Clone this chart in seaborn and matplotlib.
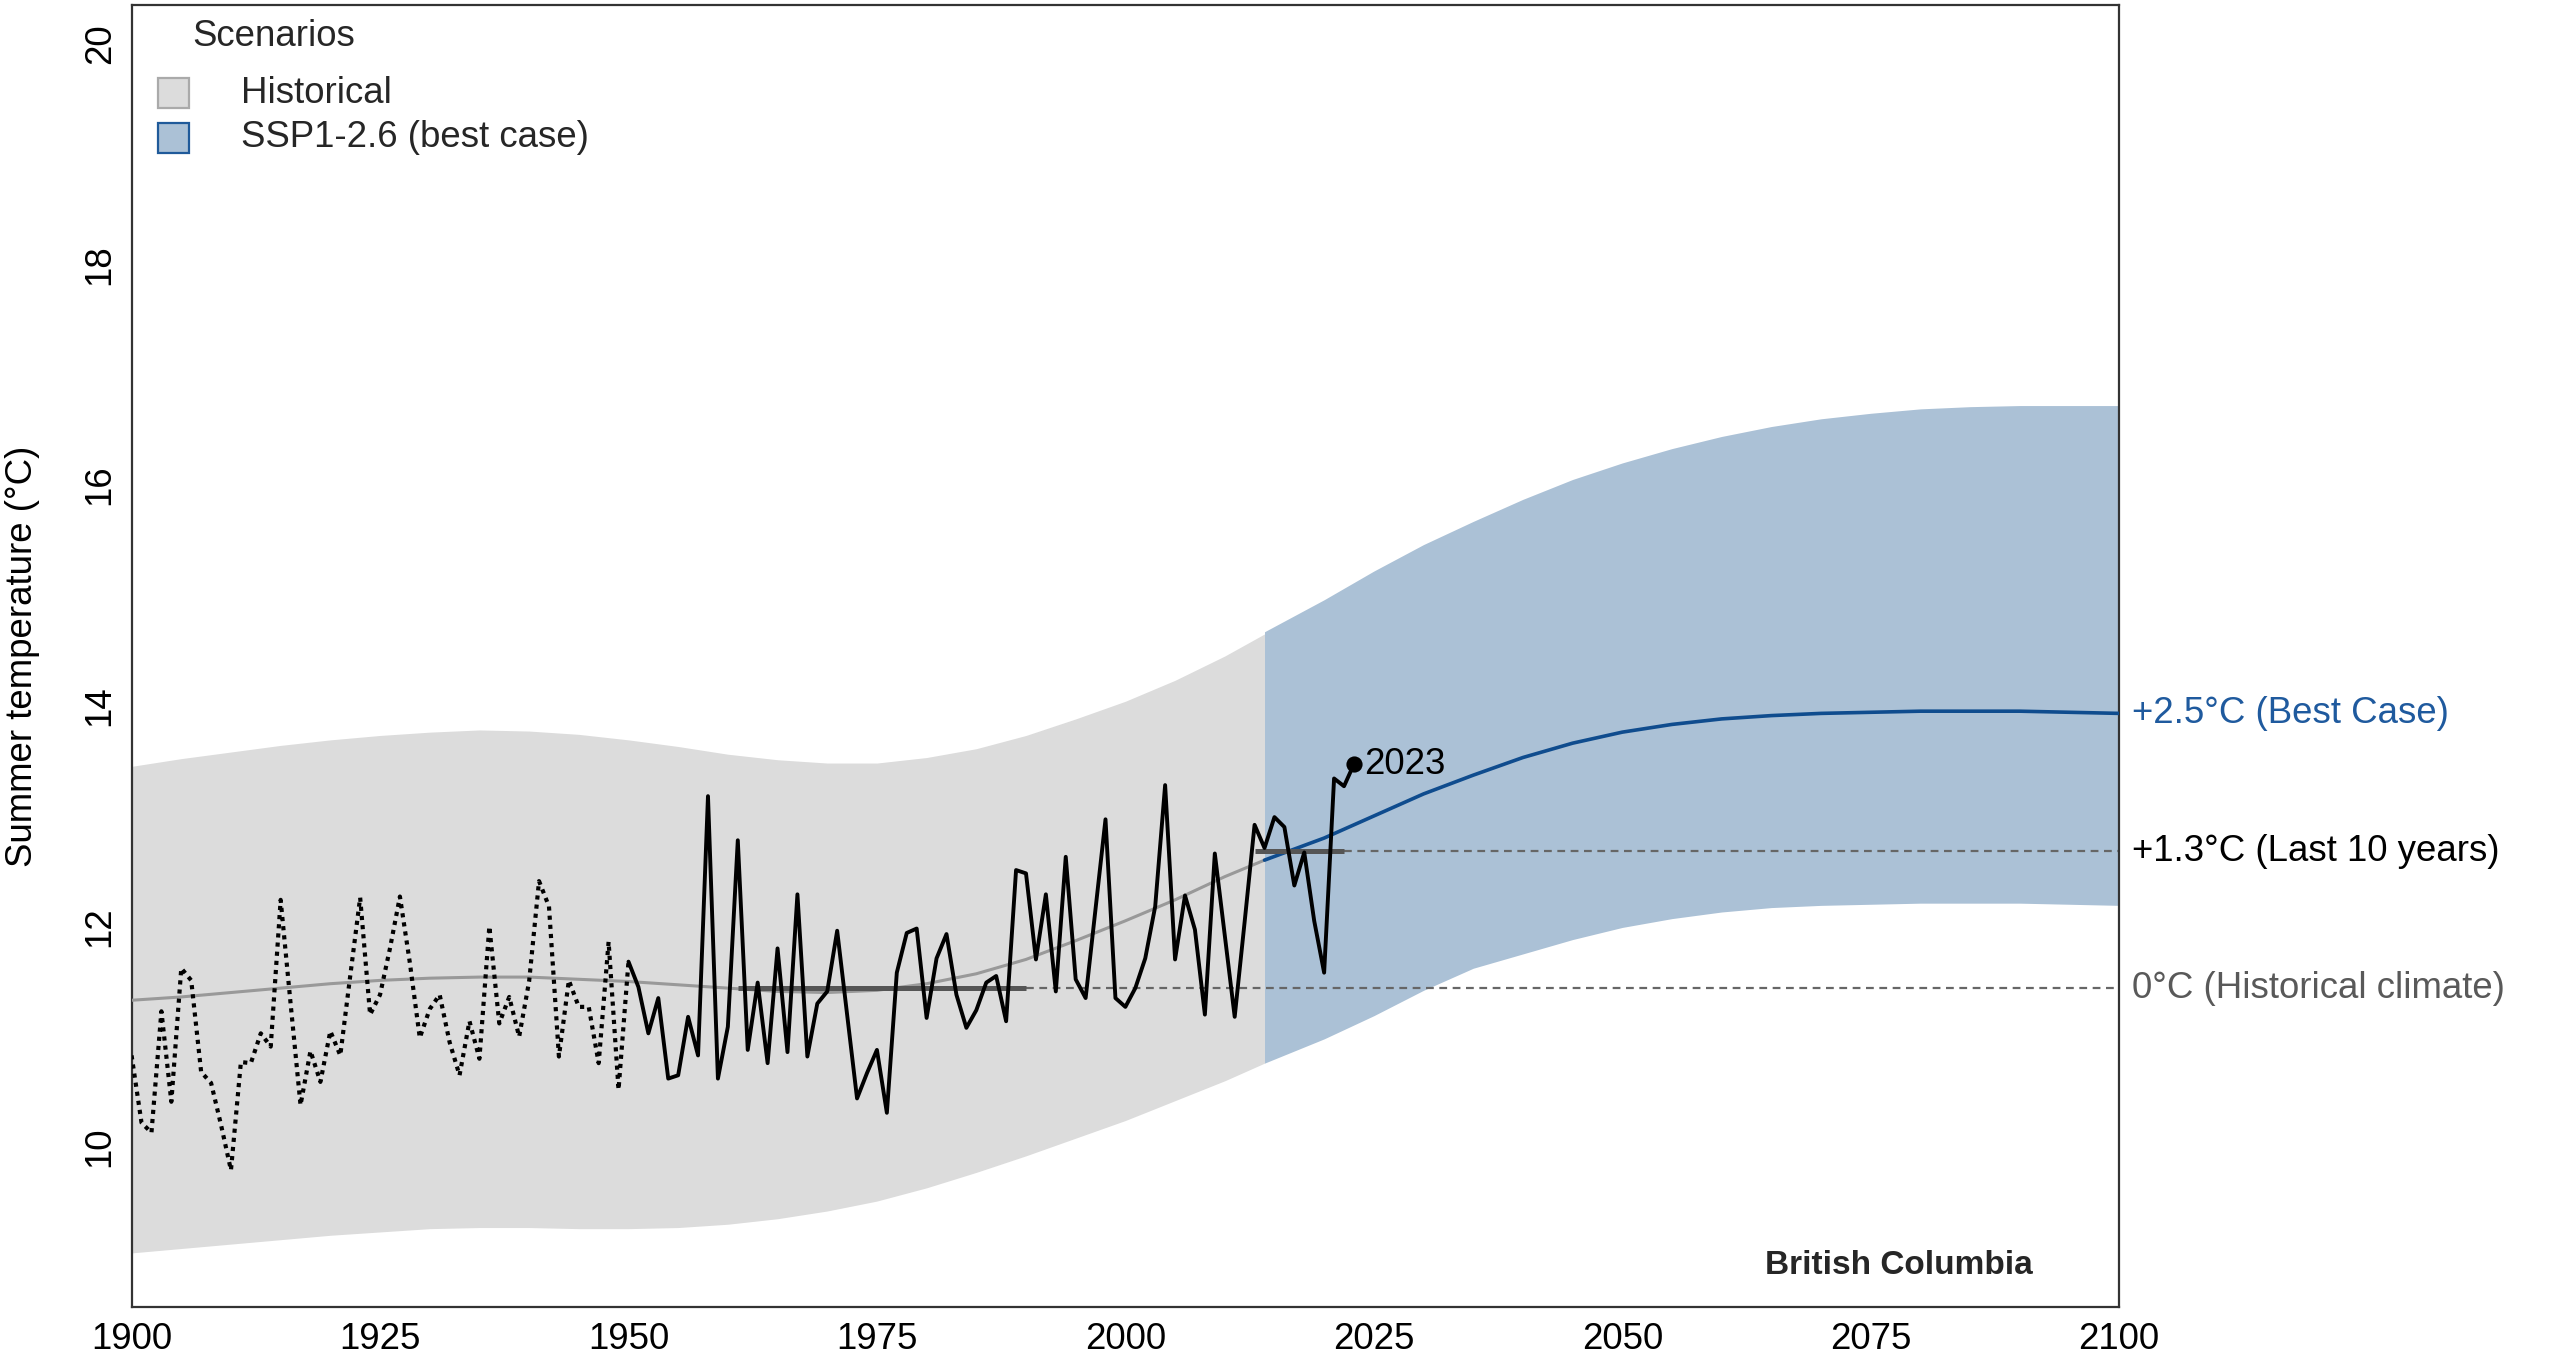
import numpy as np
import pandas as pd
import matplotlib
matplotlib.use("Agg")
import matplotlib.pyplot as plt
from matplotlib.patches import Rectangle
import seaborn as sns

# ---------------- data ----------------
early_years = list(range(1900, 1951))
early_temp = [10.83, 10.22, 10.13, 11.23, 10.41, 11.62, 11.51, 10.68, 10.58, 10.20,
              9.79, 10.77, 10.76, 11.03, 10.91, 12.24, 11.30, 10.38, 10.87, 10.59,
              11.05, 10.83, 11.55, 12.26, 11.20, 11.38, 11.80, 12.27, 11.67, 10.99,
              11.25, 11.38, 10.95, 10.65, 11.14, 10.80, 12.00, 11.12, 11.36, 11.00,
              11.50, 12.41, 12.18, 10.82, 11.51, 11.27, 11.27, 10.76, 11.86, 10.52,
              11.68]

obs_years = list(range(1950, 2024))
obs_temp = [11.68, 11.45, 11.03, 11.35, 10.62, 10.65, 11.18, 10.83, 13.18, 10.62,
            11.09, 12.78, 10.88, 11.49, 10.76, 11.80, 10.86, 12.29, 10.82, 11.30,
            11.41, 11.96, 11.20, 10.44, 10.67, 10.88, 10.31, 11.58, 11.94, 11.98,
            11.17, 11.71, 11.93, 11.38, 11.08, 11.24, 11.49, 11.55, 11.14, 12.51,
            12.48, 11.70, 12.29, 11.41, 12.63, 11.52, 11.35, 12.16, 12.97, 11.35,
            11.27, 11.44, 11.71, 12.18, 13.28, 11.70, 12.28, 11.97, 11.20, 12.66,
            11.92, 11.18, 12.04, 12.92, 12.71, 12.99, 12.90, 12.37, 12.67, 12.05,
            11.58, 13.34, 13.27, 13.47]

hist_years = [1900, 1905, 1910, 1915, 1920, 1925, 1930, 1935, 1940, 1945, 1950, 1955,
              1960, 1965, 1970, 1975, 1980, 1985, 1990, 1995, 2000, 2005, 2010, 2014]
hist_mean = [11.33, 11.36, 11.40, 11.44, 11.48, 11.51, 11.53, 11.54, 11.54, 11.52, 11.50, 11.47,
             11.44, 11.41, 11.40, 11.42, 11.48, 11.57, 11.70, 11.87, 12.05, 12.24, 12.45, 12.60]
hist_upper = [13.45, 13.52, 13.58, 13.64, 13.69, 13.73, 13.76, 13.78, 13.77, 13.74, 13.69, 13.63,
              13.56, 13.51, 13.48, 13.48, 13.53, 13.61, 13.73, 13.88, 14.04, 14.23, 14.45, 14.65]
hist_lower = [9.04, 9.08, 9.12, 9.16, 9.20, 9.23, 9.26, 9.27, 9.27, 9.26, 9.26, 9.27,
              9.30, 9.35, 9.42, 9.51, 9.63, 9.77, 9.92, 10.08, 10.24, 10.42, 10.60, 10.76]

ssp_years = [2014, 2020, 2025, 2030, 2035, 2040, 2045, 2050, 2055, 2060, 2065, 2070,
             2075, 2080, 2085, 2090, 2095, 2100]
ssp_mean = [12.60, 12.80, 13.00, 13.20, 13.37, 13.53, 13.66, 13.76, 13.83, 13.88, 13.91, 13.93,
            13.94, 13.95, 13.95, 13.95, 13.94, 13.93]
ssp_upper = [14.67, 14.96, 15.22, 15.46, 15.67, 15.87, 16.05, 16.20, 16.33, 16.44, 16.53, 16.60,
             16.65, 16.69, 16.71, 16.72, 16.72, 16.72]
ssp_lower = [10.76, 10.98, 11.19, 11.42, 11.62, 11.75, 11.88, 11.99, 12.07, 12.13, 12.17, 12.19,
             12.20, 12.21, 12.21, 12.21, 12.20, 12.19]

baseline_value = 11.44
baseline_period = [1961, 1990]
baseline_extend = [1990, 2100]
recent_value = 12.68
recent_period = [2013, 2022]
recent_extend = [2022, 2100]
best_case_value = 13.93

x_ticks = [1900, 1925, 1950, 1975, 2000, 2025, 2050, 2075, 2100]
y_ticks = [10, 12, 14, 16, 18, 20]

# ---------------- style ----------------
sns.set_theme(style="white")
plt.rcParams["font.family"] = ["Liberation Sans", "DejaVu Sans"]

FS = 13.2
GREY_BAND = "#dcdcdc"
BLUE_BAND = "#abc1d6"
BLUE = "#0f4c8e"
BLUE_TXT = "#1f5a9e"

fig = plt.figure(figsize=(12.8, 6.82), dpi=200)
ax = fig.add_axes([0.0514, 0.0418, 0.7764, 0.9545])

# bands
ax.fill_between(hist_years, hist_lower, hist_upper, color=GREY_BAND, lw=0, zorder=1)
ax.fill_between(ssp_years, ssp_lower, ssp_upper, color=BLUE_BAND, lw=0, zorder=1)

# reference lines
ax.plot(baseline_extend, [baseline_value] * 2, color="#666666", lw=0.8,
        dashes=(3.5, 2.5), zorder=2)
ax.plot(recent_extend, [recent_value] * 2, color="#666666", lw=0.8,
        dashes=(3.5, 2.5), zorder=2)

# trend lines
sns.lineplot(x=hist_years, y=hist_mean, ax=ax, color="#999999", lw=1.1, zorder=3)
sns.lineplot(x=ssp_years, y=ssp_mean, ax=ax, color=BLUE, lw=1.3, zorder=3)

ax.plot(baseline_period, [baseline_value] * 2, color="#555555", lw=1.8,
        solid_capstyle="butt", zorder=4)
ax.plot(recent_period, [recent_value] * 2, color="#555555", lw=1.8,
        solid_capstyle="butt", zorder=4)

# observations
sns.lineplot(x=early_years, y=early_temp, ax=ax, color="black", lw=1.5,
             linestyle=(0, (1.0, 1.2)), dash_capstyle="butt", zorder=5)
sns.lineplot(x=obs_years, y=obs_temp, ax=ax, color="black", lw=1.4, zorder=5)
ax.scatter([obs_years[-1]], [obs_temp[-1]], s=34, color="black", zorder=6, lw=0)
ax.annotate(str(obs_years[-1]), xy=(obs_years[-1], obs_temp[-1]), xytext=(3.5, 0),
            textcoords="offset points", va="center", ha="left", fontsize=FS, color="black")

# right-hand labels
for val, txt, col in [(best_case_value, "+2.5°C (Best Case)", BLUE_TXT),
                      (recent_value, "+1.3°C (Last 10 years)", "black"),
                      (baseline_value, "0°C (Historical climate)", "#595959")]:
    ax.annotate(txt, xy=(2100, val), xytext=(4.6, 0), textcoords="offset points",
                va="center", ha="left", fontsize=FS, color=col, annotation_clip=False)

# axes
ax.set_xlim(1900, 2100)
ax.set_ylim(8.55, 20.35)
ax.set_xticks(x_ticks)
ax.set_xticklabels([str(v) for v in x_ticks])
ax.set_yticks(y_ticks)
ax.set_yticklabels([str(v) for v in y_ticks], rotation=90, va="center")
ax.tick_params(axis="both", length=0, labelsize=FS, colors="black")
ax.tick_params(axis="x", pad=5.5)
ax.tick_params(axis="y", pad=5)
ax.set_xlabel("")
ax.set_ylabel("Summer temperature (°C)", fontsize=FS, color="black")
ax.yaxis.set_label_coords(-0.046, 0.5)
for s in ax.spines.values():
    s.set_visible(True)
    s.set_color("#333333")
    s.set_linewidth(0.8)
ax.grid(False)

# legend (manual)
ax.text(0.0307, 0.9755, "Scenarios", transform=ax.transAxes, ha="left", va="center", fontsize=FS)
ax.add_patch(Rectangle((0.0134, 0.9209), 0.0156, 0.0231, transform=ax.transAxes,
                       facecolor=GREY_BAND, edgecolor="#aaaaaa", lw=0.8, zorder=10))
ax.add_patch(Rectangle((0.0134, 0.8867), 0.0156, 0.0227, transform=ax.transAxes,
                       facecolor=BLUE_BAND, edgecolor="#1f5a9a", lw=0.8, zorder=10))
ax.text(0.0553, 0.9324, "Historical", transform=ax.transAxes, ha="left", va="center", fontsize=FS)
ax.text(0.0553, 0.8986, "SSP1-2.6 (best case)", transform=ax.transAxes, ha="left", va="center", fontsize=FS)

ax.text(0.9566, 0.032, "British Columbia", transform=ax.transAxes, ha="right", va="center",
        fontsize=12, fontweight="bold")

fig.savefig("out.png", dpi=200)
